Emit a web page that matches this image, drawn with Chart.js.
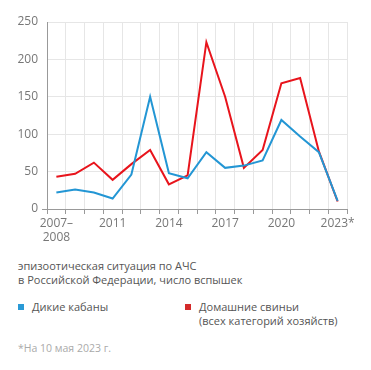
<!DOCTYPE html>
<html><head><meta charset="utf-8">
<script src="https://cdn.jsdelivr.net/npm/chart.js@4"></script>
<style>
html,body{margin:0;padding:0;background:#fff;width:371px;height:370px;overflow:hidden;font-family:"Open Sans",sans-serif;}
#wrap{position:absolute;left:0;top:0;width:371px;height:250px;}
.cap{position:absolute;left:18px;top:259px;font-size:11px;line-height:14px;color:#555;}
.leg{position:absolute;top:300px;font-size:11px;line-height:14px;color:#555;}
.leg i{position:absolute;left:0;top:4px;width:6px;height:6px;}
.leg span{display:block;padding-left:14px;}
.note{position:absolute;left:18px;top:341px;font-size:10.5px;color:#aaa;}
</style></head><body>
<div id="wrap"><canvas id="c"></canvas></div>
<div class="cap">эпизоотическая ситуация по АЧС<br>в Российской Федерации, число вспышек</div>
<div id="legend"></div>
<div class="note">*На 10 мая 2023 г.</div>
<script>
const categories = [["2007–","2008"],"2009","2010","2011","2012","2013","2014","2015","2016","2017","2018","2019","2020","2021","2022","2023*"];
const wildBoars = [22,26,22,14,46,150,48,41,76,55,58,65,119,97,76,11];
const domesticPigs = [43,47,62,39,60,79,33,45,223,150,55,79,168,175,77,10];
const seriesNames = ["Дикие кабаны","Домашние свиньи (всех категорий хозяйств)"];
const legendLines = [["Дикие кабаны"],["Домашние свиньи","(всех категорий хозяйств)"]];
const yTicks = [0,50,100,150,200,250];
const colors = ["#2396d4","#e8141c"];
const legendColors = ["#2a9ad6","#d42a2a"];

const lg = document.getElementById('legend');
legendLines.forEach((lines,i)=>{
  const d=document.createElement('div');d.className='leg';d.style.left=(i===0?18:185)+'px';
  d.innerHTML='<i style="background:'+legendColors[i]+'"></i>'+lines.map(l=>'<span>'+l+'</span>').join('');
  lg.appendChild(d);
});

new Chart(document.getElementById('c'),{
  type:'line',
  data:{labels:categories,datasets:[
    {label:seriesNames[0],data:wildBoars,borderColor:colors[0],borderWidth:2,pointRadius:0,tension:0},
    {label:seriesNames[1],data:domesticPigs,borderColor:colors[1],borderWidth:2,pointRadius:0,tension:0}
  ]},
  options:{
    responsive:true,maintainAspectRatio:false,animation:false,
    layout:{padding:{top:22,right:24,left:0,bottom:0}},
    plugins:{legend:{display:false},tooltip:{enabled:false}},
    scales:{
      x:{offset:true,
        grid:{offset:true,color:'#e6e6e6',tickColor:'#999',tickLength:5,lineWidth:1},
        border:{color:'#999',width:1},
        ticks:{autoSkip:false,maxRotation:0,color:'#777',font:{family:'Open Sans',size:12},padding:2,
          callback:function(v,i){return i%3===0?categories[i]:'';}},
        afterFit:function(s){s.height=41;}
      },
      y:{min:0,max:250,
        afterBuildTicks:function(s){s.ticks=yTicks.map(v=>({value:v}));},
        grid:{color:'#e6e6e6',tickLength:5,tickColor:function(c){return c.tick&&c.tick.value===0?'#999':'rgba(0,0,0,0)';}},
        border:{color:'#999',width:1},
        ticks:{color:'#777',font:{family:'Open Sans',size:12},padding:4},
        afterFit:function(s){s.width=47;}
      }
    }
  }
});
</script>
</body></html>
